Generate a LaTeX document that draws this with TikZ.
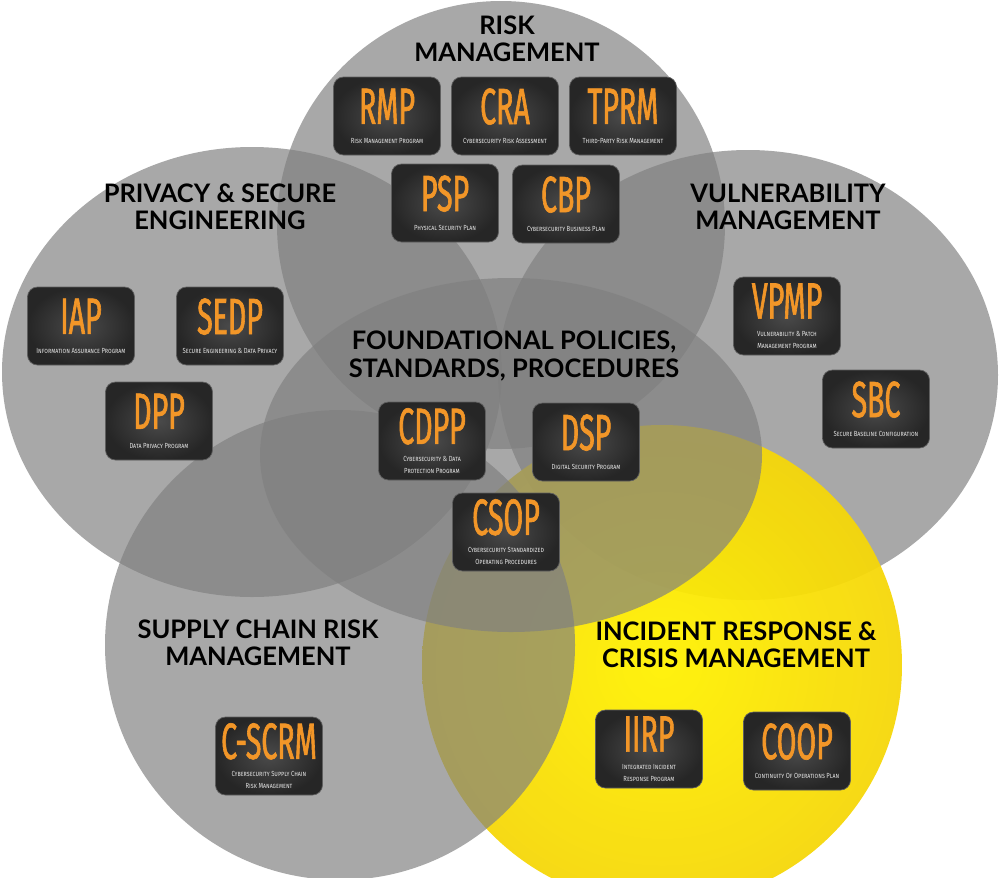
\documentclass[tikz,border=0pt]{standalone}
\usepackage{fontspec}
\setmainfont{Lato}
\newfontfamily\acrofamily[FakeStretch=0.56,FakeBold=1.2]{Fira Sans}
\newfontfamily\captfamily[FakeStretch=0.8]{Fira Sans}
\usetikzlibrary{positioning}

\definecolor{venngray}{RGB}{128,128,128}
\definecolor{yellowin}{RGB}{255,242,0}
\definecolor{yellowout}{RGB}{246,215,8}
\definecolor{acroorange}{RGB}{242,150,40}
\definecolor{boxmid}{RGB}{74,74,74}
\definecolor{boxdark}{RGB}{38,38,38}
\definecolor{boxedge}{RGB}{95,95,95}
\definecolor{capwhite}{RGB}{225,225,225}

\newcommand\pxu{0.2mm}
\newcommand\titlefont{\fontsize{14.5}{15.6}\selectfont\bfseries}
\newcommand\captfont{\captfamily\scshape\fontsize{4.2}{7}\selectfont}
\newcommand\acr[1]{{\acrofamily\fontsize{29}{29}\selectfont\color{acroorange}#1}}

\begin{document}
\begin{tikzpicture}[x=0.2mm, y=-0.2mm,
    ring/.style={fill=venngray, fill opacity=0.68},
    prog/.style={draw=boxedge, line width=0.4pt, rounded corners=2mm,
      inner color=boxmid, outer color=boxdark,
      minimum width=21.4mm, minimum height=15.6mm, inner sep=0pt,
      align=center, text=capwhite, font=\captfont},
    area/.style={font=\titlefont, align=center, text=black}
  ]
    \useasboundingbox (0,0) rectangle (1000,877);
    \fill[white] (0,0) rectangle (1000,877);

    % the six areas
    \fill[ring] (501,225) circle [radius=224*\pxu];
    \fill[ring] (252,372) ellipse [x radius=250*\pxu, y radius=225*\pxu];
    \fill[ring] (748,375) ellipse [x radius=250*\pxu, y radius=225*\pxu];
    \shade[inner color=yellowin, outer color=yellowout, fill opacity=0.94]
      (662,665) circle [radius=240*\pxu];
    \fill[ring] (340,645) circle [radius=235*\pxu];
    \fill[ring] (511,455) ellipse [x radius=251*\pxu, y radius=177*\pxu];

    % area titles
    \node[area] (risk) at (507,39) {RISK\\MANAGEMENT};
    \node[area] (priv) at (220,207) {PRIVACY \& SECURE\\ENGINEERING};
    \node[area] (vuln) at (788,207) {VULNERABILITY\\MANAGEMENT};
    \node[area] (found) at (514,356) {FOUNDATIONAL POLICIES,\\STANDARDS, PROCEDURES};
    \node[area] (supply) at (258,643) {SUPPLY CHAIN RISK\\MANAGEMENT};
    \node[area] (incid) at (736,645) {INCIDENT RESPONSE \&\\CRISIS MANAGEMENT};

    % programs
    \node[prog] (rmp) at (387,116) {\acr{RMP}\\[4pt]Risk Management Program};
    \node[prog] (cra) at (505,116) {\acr{CRA}\\[4pt]Cybersecurity Risk Assessment};
    \node[prog] (tprm) at (623,116) {\acr{TPRM}\\[4pt]Third-Party Risk Management};
    \node[prog] (psp) at (445,203) {\acr{PSP}\\[4pt]Physical Security Plan};
    \node[prog] (cbp) at (566,204) {\acr{CBP}\\[4pt]Cybersecurity Business Plan};

    \node[prog] (iap) at (81,326) {\acr{IAP}\\[4pt]Information Assurance Program};
    \node[prog] (sedp) at (230,326) {\acr{SEDP}\\[4pt]Secure Engineering \& Data Privacy};
    \node[prog] (dpp) at (159,421) {\acr{DPP}\\[4pt]Data Privacy Program};

    \node[prog] (vpmp) at (787,316) {\acr{VPMP}\\[3pt]Vulnerability \& Patch\\Management Program};
    \node[prog] (sbc) at (876,409) {\acr{SBC}\\[4pt]Secure Baseline Configuration};

    \node[prog] (cdpp) at (432,441) {\acr{CDPP}\\[3pt]Cybersecurity \& Data\\Protection Program};
    \node[prog] (dsp) at (586,442) {\acr{DSP}\\[4pt]Digital Security Program};
    \node[prog] (csop) at (506,532) {\acr{CSOP}\\[3pt]Cybersecurity Standardized\\Operating Procedures};

    \node[prog] (cscrm) at (269,756) {\acr{C-SCRM}\\[3pt]Cybersecurity Supply Chain\\Risk Management};
    \node[prog] (iirp) at (649,749) {\acr{IIRP}\\[3pt]Integrated Incident\\Response Program};
    \node[prog] (coop) at (797,751) {\acr{COOP}\\[4pt]Continuity Of Operations Plan};
\end{tikzpicture}
\end{document}
